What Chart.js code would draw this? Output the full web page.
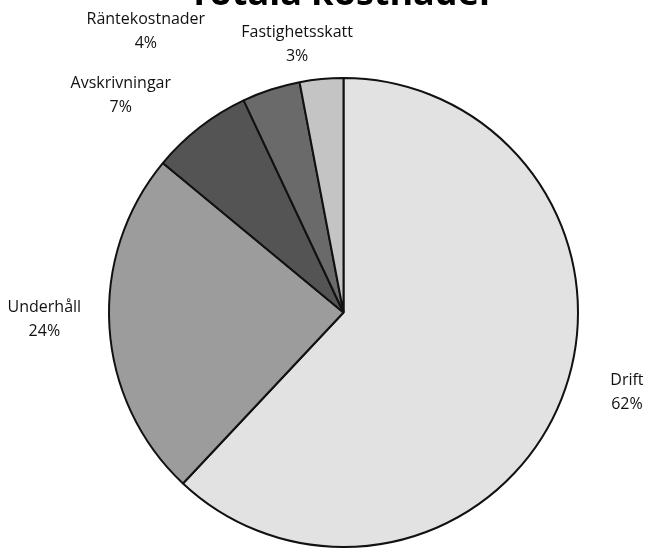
<!DOCTYPE html>
<html>
<head>
<meta charset="utf-8">
<script src="https://cdn.jsdelivr.net/npm/chart.js@4/dist/chart.umd.min.js"></script>
<style>
  html, body { margin: 0; padding: 0; background: #fff; }
  #wrap { width: 647px; height: 549px; position: relative; }
</style>
</head>
<body>
<div id="wrap"><canvas id="c"></canvas></div>
<script>
// Cost breakdown (percent)
const categories = ['Drift', 'Underhåll', 'Avskrivningar', 'Räntekostnader', 'Fastighetsskatt'];
const shares = [62, 24, 7, 4, 3];
const sliceColors = ['#e2e2e2', '#9c9c9c', '#545454', '#6a6a6a', '#c4c4c4'];
const titleText = 'Totala kostnader';

// Label placement around the pie: [distance in radii, angular nudge in degrees]
const labelPlacement = [
  [1.256, -5.8],
  [1.276, 2.2],
  [1.327, -7.9],
  [1.466, -17.1],
  [1.161, -4.4]
];

const FONT = '"Open Sans", "Noto Sans", sans-serif';

const outsideLabels = {
  id: 'outsideLabels',
  afterDatasetsDraw(chart) {
    const ctx = chart.ctx;
    const meta = chart.getDatasetMeta(0);
    ctx.save();
    ctx.fillStyle = '#111';
    ctx.font = '16px ' + FONT;
    ctx.textAlign = 'center';
    ctx.textBaseline = 'middle';
    meta.data.forEach((arc, i) => {
      const p = arc.getProps(['x', 'y', 'startAngle', 'endAngle', 'outerRadius'], true);
      const mid = (p.startAngle + p.endAngle) / 2 + labelPlacement[i][1] * Math.PI / 180;
      const r = p.outerRadius * labelPlacement[i][0];
      const lx = p.x + Math.cos(mid) * r;
      const ly = p.y + Math.sin(mid) * r;
      ctx.fillText(categories[i], lx, ly - 12);
      ctx.fillText(shares[i] + '%', lx, ly + 12);
    });
    ctx.restore();
  }
};

const topTitle = {
  id: 'topTitle',
  afterDraw(chart) {
    const ctx = chart.ctx;
    ctx.save();
    ctx.fillStyle = '#000';
    ctx.font = 'bold 36px ' + FONT;
    ctx.textAlign = 'center';
    ctx.textBaseline = 'alphabetic';
    ctx.fillText(titleText, 342, 5);
    ctx.restore();
  }
};

new Chart(document.getElementById('c'), {
  type: 'pie',
  data: {
    labels: categories,
    datasets: [{
      data: shares,
      backgroundColor: sliceColors,
      borderColor: '#111',
      borderWidth: 2
    }]
  },
  options: {
    responsive: true,
    maintainAspectRatio: false,
    animation: false,
    rotation: 0,
    layout: { padding: { top: 76, bottom: 0, left: 108, right: 68 } },
    plugins: {
      legend: { display: false },
      title: { display: false },
      tooltip: { enabled: false }
    }
  },
  plugins: [outsideLabels, topTitle]
});
</script>
</body>
</html>
